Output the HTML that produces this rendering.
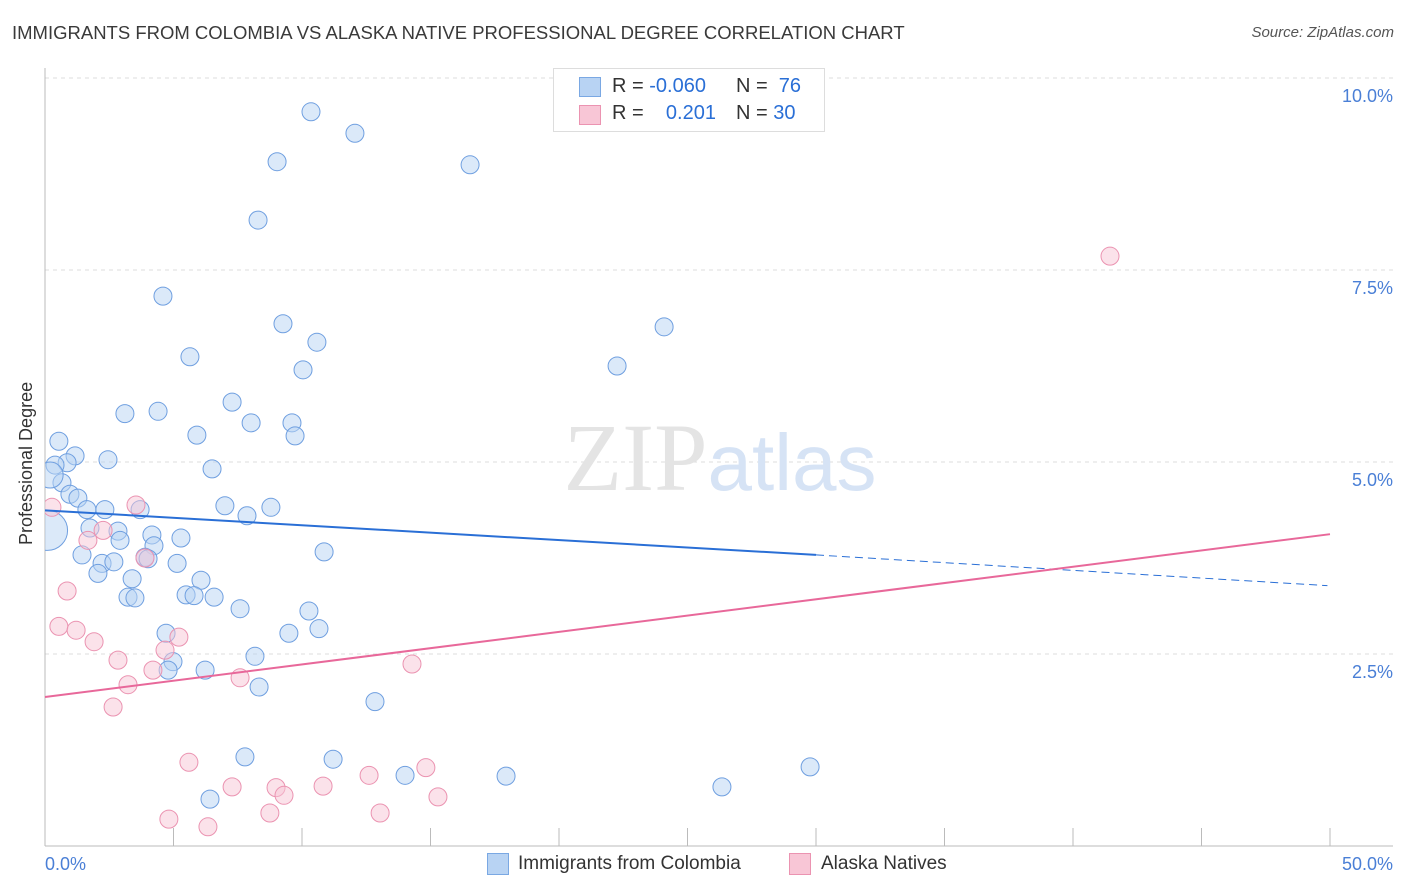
<!DOCTYPE html>
<html><head><meta charset="utf-8"><style>
body{margin:0;background:#fff;font-family:"Liberation Sans",sans-serif;}
#wrap{position:relative;width:1406px;height:892px;}
.t{position:absolute;white-space:nowrap;}
</style></head><body>
<div id="wrap">
<div class="t" style="left:12px;top:22px;font-size:18.5px;color:#3a3a3a">IMMIGRANTS FROM COLOMBIA VS ALASKA NATIVE PROFESSIONAL DEGREE CORRELATION CHART</div>
<div class="t" style="right:12px;top:24px;font-size:15px;color:#555;font-style:italic">Source: ZipAtlas.com</div>
<svg id="svg" width="1406" height="892" style="position:absolute;left:0;top:0"><defs><clipPath id="cp"><rect x="45" y="60" width="1360" height="786"/></clipPath></defs></svg>
</div>
<script>
const blueX=[10.35,12.06,9.03,16.54,8.29,4.59,9.26,24.09,10.58,5.64,22.26,10.04,7.28,3.11,4.40,9.61,8.02,0.54,5.91,9.73,1.17,2.45,0.86,0.39,6.50,0.66,0.97,1.28,1.63,2.33,3.70,7.00,8.79,7.86,1.75,2.84,4.16,5.29,2.92,4.24,1.44,10.86,3.89,4.01,2.22,2.68,5.14,2.06,3.39,6.07,5.49,3.23,3.50,5.80,6.58,7.59,10.27,4.71,9.49,10.66,4.98,8.17,4.79,6.23,8.33,12.84,7.78,11.21,14.01,17.94,29.77,26.34,6.42,0.2,0.1];
const blueY=[9.56,9.28,8.91,8.87,8.15,7.16,6.80,6.76,6.56,6.37,6.25,6.20,5.78,5.63,5.66,5.51,5.51,5.27,5.35,5.34,5.08,5.03,4.99,4.96,4.91,4.73,4.58,4.53,4.38,4.38,4.38,4.43,4.41,4.30,4.14,4.10,4.05,4.01,3.98,3.91,3.79,3.83,3.76,3.74,3.68,3.70,3.68,3.55,3.48,3.46,3.27,3.24,3.23,3.26,3.24,3.09,3.06,2.77,2.77,2.83,2.40,2.47,2.29,2.29,2.07,1.88,1.16,1.13,0.92,0.91,1.03,0.77,0.61,4.83,4.11];
const pinkX=[41.44,0.27,3.54,1.67,2.26,3.89,0.86,0.54,1.21,1.91,5.21,4.67,2.84,4.20,3.23,7.59,14.28,2.65,5.60,7.28,8.99,9.30,10.82,12.61,14.82,15.29,4.82,6.34,8.75,13.04];
const pinkY=[7.68,4.41,4.44,3.98,4.11,3.75,3.32,2.86,2.81,2.66,2.72,2.55,2.42,2.29,2.10,2.19,2.37,1.81,1.09,0.77,0.76,0.66,0.78,0.92,1.02,0.64,0.35,0.25,0.43,0.43];
const blueTrend=[4.37,3.79,3.39]; // at x=0, 30, 49.9
const pinkTrend=[1.94,4.06]; // at x=0, 50
const yTicks=[2.5,5.0,7.5,10.0];
const xLabels=["0.0%","50.0%"];
const NS="http://www.w3.org/2000/svg";
const svg=document.getElementById('svg');
const X=v=>45+v*25.7, Y=v=>846-v*76.8;
function mk(tag,at,parent){const e=document.createElementNS(NS,tag);for(const k in at)e.setAttribute(k,at[k]);(parent||svg).appendChild(e);return e;}
yTicks.forEach(t=>{
 const g=mk('line',{x1:45,x2:1393,y1:Y(t),y2:Y(t),stroke:'#ddd','stroke-dasharray':'4,4'});
 
 
 const l=mk('text',{x:1393,y:Y(t)+24,'text-anchor':'end','font-size':18,fill:'#4a7fd6','font-family':'Liberation Sans'});
 l.textContent=t.toFixed(1)+'%';
 
 
});
const ax=mk('line',{x1:45,x2:45,y1:68,y2:846,stroke:'#bbb'});


const bx=mk('line',{x1:45,x2:1393,y1:846,y2:846,stroke:'#bbb'});


for(let i=0;i<=10;i++){const tk=mk('line',{x1:X(i*5),x2:X(i*5),y1:828,y2:846,stroke:'#bbb'});
 
 }
const wm=mk('text',{x:720,y:490,'text-anchor':'middle','font-size':96,'font-family':'Liberation Serif',fill:'#e4e4e4'});
wm.innerHTML='ZIP<tspan fill="#d6e3f5" font-family="Liberation Sans" font-size="80">atlas</tspan>';


const layer=mk('g',{'clip-path':'url(#cp)'});
function dots(xs,ys,fill,stroke,name){xs.forEach((x,i)=>{let r=9;
 if(name==='blue-point'&&i===xs.length-1)r=20;
 if(name==='blue-point'&&i===xs.length-2)r=13;
 const c=mk('circle',{cx:X(x),cy:Y(ys[i]),r:r,fill:fill,stroke:stroke,'stroke-width':1,'fill-opacity':0.5},layer);
 
 });}
dots(blueX,blueY,'#b8d3f3','#6f9fe0','blue-point');
dots(pinkX,pinkY,'#f8c6d6','#eb93b1','pink-point');
const bl=mk('line',{x1:X(0),y1:Y(blueTrend[0]),x2:X(30),y2:Y(blueTrend[1]),stroke:'#2a6fd6','stroke-width':2});


const bd=mk('line',{x1:X(30),y1:Y(blueTrend[1]),x2:X(49.9),y2:Y(blueTrend[2]),stroke:'#2a6fd6','stroke-width':1,'stroke-dasharray':'8,5'});


const pl=mk('line',{x1:X(0),y1:Y(pinkTrend[0]),x2:X(50),y2:Y(pinkTrend[1]),stroke:'#e8689a','stroke-width':2});


xLabels.forEach((s,i)=>{const t=mk('text',{x:i?1393:45,y:870,'text-anchor':i?'end':'start','font-size':18,fill:'#4a7fd6','font-family':'Liberation Sans'});t.textContent=s;
 
 });
</script>
<div class="t" style="left:16px;top:545px;transform:rotate(-90deg);transform-origin:0 0;font-size:18px;color:#333">Professional Degree</div>
<div style="position:absolute;left:553px;top:68px;width:270px;height:62px;border:1px solid #ddd;background:#fff;font-size:20px;color:#333">
 <div style="position:absolute;left:25px;top:8px;width:20px;height:18px;background:#b8d3f3;border:1px solid #7aa8e3"></div>
 <div class="t" style="left:58px;top:6px">R = <span style="color:#2a6fd6">-0.060</span></div>
 <div class="t" style="left:182px;top:6px">N = &nbsp;<span style="color:#2a6fd6">76</span></div>
 <div style="position:absolute;left:25px;top:36px;width:20px;height:18px;background:#f8c6d6;border:1px solid #eb93b1"></div>
 <div class="t" style="left:58px;top:33px">R = &nbsp;&nbsp;&nbsp;<span style="color:#2a6fd6">0.201</span></div>
 <div class="t" style="left:182px;top:33px">N = <span style="color:#2a6fd6">30</span></div>
</div>
<div style="position:absolute;left:487px;top:853px;width:20px;height:20px;background:#b8d3f3;border:1px solid #7aa8e3"></div>
<div class="t" style="left:518px;top:853px;font-size:19px;color:#333">Immigrants from Colombia</div>
<div style="position:absolute;left:789px;top:853px;width:20px;height:20px;background:#f8c6d6;border:1px solid #eb93b1"></div>
<div class="t" style="left:821px;top:853px;font-size:19px;color:#333">Alaska Natives</div>
</body></html>
